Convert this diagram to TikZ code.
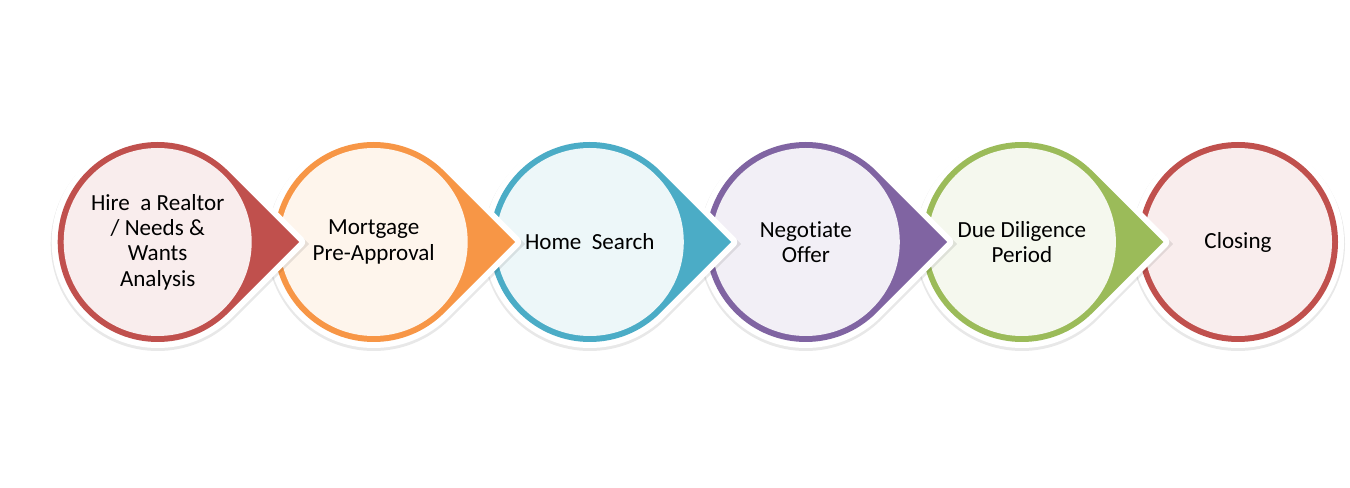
\documentclass[tikz,border=0pt]{standalone}
\usepackage{fontspec}
\setmainfont{Carlito}[Ligatures=CommonOff]
\definecolor{hireRed}{HTML}{C0504D}
\definecolor{loanOrange}{HTML}{F79646}
\definecolor{searchAqua}{HTML}{4BACC6}
\definecolor{offerPurple}{HTML}{8064A2}
\definecolor{checkGreen}{HTML}{9BBB59}

\begin{document}
\begin{tikzpicture}[x=0.75pt,y=0.75pt,yscale=-1,xscale=1,
  rim/.style={draw=white, line width=9pt, line join=round},
  shadow/.style={fill=black, fill opacity=0.09},
  steptext/.style={inner sep=0.75pt, align=center, font=\fontsize{17.3}{19}\selectfont}]
\useasboundingbox (0,0) rectangle (1350,488);
% Closing
\fill [shadow] (1238,244) circle [radius=107];
\draw [rim] (1238,242) circle [radius=100];
\fill [hireRed] (1238,242) circle [radius=100];
\fill [hireRed!10!white] (1238,242) circle [radius=94];
\draw (1238,242) node (closing) [steptext] {Closing};
% Due Diligence Period
\fill [shadow] (1021.9,244) ++(45:107) arc [start angle=45, end angle=315, radius=107] -- ++(75.66,75.66) -- cycle;
\draw [rim] (1021.9,242) ++(45:100) arc [start angle=45, end angle=315, radius=100] -- ++(70.71,70.71) -- cycle;
\fill [checkGreen] (1021.9,242) ++(45:100) arc [start angle=45, end angle=315, radius=100] -- ++(70.71,70.71) -- cycle;
\fill [checkGreen!10!white] (1021.9,242) circle [radius=94];
\draw (1021.9,242) node (diligence) [steptext] {Due Diligence\\Period};
% Negotiate Offer
\fill [shadow] (805.8,244) ++(45:107) arc [start angle=45, end angle=315, radius=107] -- ++(75.66,75.66) -- cycle;
\draw [rim] (805.8,242) ++(45:100) arc [start angle=45, end angle=315, radius=100] -- ++(70.71,70.71) -- cycle;
\fill [offerPurple] (805.8,242) ++(45:100) arc [start angle=45, end angle=315, radius=100] -- ++(70.71,70.71) -- cycle;
\fill [offerPurple!10!white] (805.8,242) circle [radius=94];
\draw (805.8,242) node (offer) [steptext] {Negotiate\\Offer};
% Home Search
\fill [shadow] (589.8,244) ++(45:107) arc [start angle=45, end angle=315, radius=107] -- ++(75.66,75.66) -- cycle;
\draw [rim] (589.8,242) ++(45:100) arc [start angle=45, end angle=315, radius=100] -- ++(70.71,70.71) -- cycle;
\fill [searchAqua] (589.8,242) ++(45:100) arc [start angle=45, end angle=315, radius=100] -- ++(70.71,70.71) -- cycle;
\fill [searchAqua!10!white] (589.8,242) circle [radius=94];
\draw (589.8,242) node (search) [steptext] {Home\ \ Search};
% Mortgage Pre-Approval
\fill [shadow] (373.7,244) ++(45:107) arc [start angle=45, end angle=315, radius=107] -- ++(75.66,75.66) -- cycle;
\draw [rim] (373.7,242) ++(45:100) arc [start angle=45, end angle=315, radius=100] -- ++(70.71,70.71) -- cycle;
\fill [loanOrange] (373.7,242) ++(45:100) arc [start angle=45, end angle=315, radius=100] -- ++(70.71,70.71) -- cycle;
\fill [loanOrange!10!white] (373.7,242) circle [radius=94];
\draw (373.7,242) node (mortgage) [steptext] {Mortgage\\Pre-Approval};
% Hire a Realtor
\fill [shadow] (157.7,244) ++(45:107) arc [start angle=45, end angle=315, radius=107] -- ++(75.66,75.66) -- cycle;
\draw [rim] (157.7,242) ++(45:100) arc [start angle=45, end angle=315, radius=100] -- ++(70.71,70.71) -- cycle;
\fill [hireRed] (157.7,242) ++(45:100) arc [start angle=45, end angle=315, radius=100] -- ++(70.71,70.71) -- cycle;
\fill [hireRed!10!white] (157.7,242) circle [radius=94];
\draw (157.7,242) node (realtor) [steptext] {Hire\ \ a Realtor\\/ Needs \&\\Wants\\Analysis};
\end{tikzpicture}
\end{document}
